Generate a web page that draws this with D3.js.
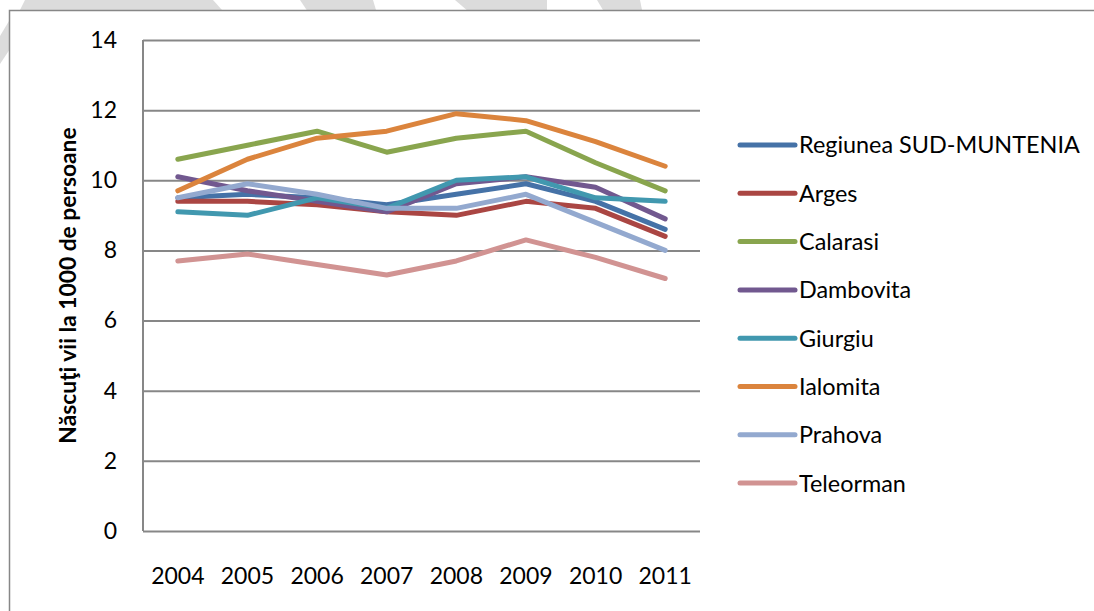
<!DOCTYPE html>
<html>
<head>
    <meta charset="utf-8">
    <title>Născuţi vii la 1000 de persoane</title>
    <script src="https://d3js.org/d3.v7.min.js"></script>
    <style>
        body {
            margin: 0;
            background: #fff;
        }

        svg text {
            font-family: Lato, "Liberation Sans", sans-serif;
            fill: #000;
        }

        .tick text {
            font-size: 23px;
        }

        .grid line {
            stroke: #878787;
            stroke-width: 2;
        }

        .series {
            fill: none;
            stroke-width: 5;
            stroke-linejoin: round;
            stroke-linecap: round;
        }

        .legend text {
            font-size: 23.4px;
        }

        .y-title {
            font-size: 22.8px;
            font-weight: bold;
        }
    </style>
</head>
<body>
    <div id="chart"></div>

    <script>
        // Years on the x axis
        const years = ["2004", "2005", "2006", "2007", "2008", "2009", "2010", "2011"];

        // Series names, in legend order
        const regions = ["Regiunea SUD-MUNTENIA", "Arges", "Calarasi", "Dambovita",
                         "Giurgiu", "Ialomita", "Prahova", "Teleorman"];

        // Live births per 1000 people
        const sudMuntenia = [9.5, 9.6, 9.5, 9.3, 9.6, 9.9, 9.4, 8.6];
        const arges       = [9.4, 9.4, 9.3, 9.1, 9.0, 9.4, 9.2, 8.4];
        const calarasi    = [10.6, 11.0, 11.4, 10.8, 11.2, 11.4, 10.5, 9.7];
        const dambovita   = [10.1, 9.7, 9.4, 9.1, 9.9, 10.1, 9.8, 8.9];
        const giurgiu     = [9.1, 9.0, 9.5, 9.2, 10.0, 10.1, 9.5, 9.4];
        const ialomita    = [9.7, 10.6, 11.2, 11.4, 11.9, 11.7, 11.1, 10.4];
        const prahova     = [9.5, 9.9, 9.6, 9.2, 9.2, 9.6, 8.8, 8.0];
        const teleorman   = [7.7, 7.9, 7.6, 7.3, 7.7, 8.3, 7.8, 7.2];

        const yTicks = [0, 2, 4, 6, 8, 10, 12, 14];

        const colors = ["#4572a7", "#aa4643", "#89a54e", "#71588f",
                        "#4198af", "#db843d", "#93a9cf", "#d19392"];

        const series = [sudMuntenia, arges, calarasi, dambovita,
                        giurgiu, ialomita, prahova, teleorman].map((values, i) => ({
            name: regions[i],
            color: colors[i],
            values: values
        }));

        const width = 1094, height = 611;
        const plot = {left: 143, right: 700, top: 40, bottom: 531};

        const svg = d3.select("#chart")
            .append("svg")
            .attr("width", width)
            .attr("height", height);

        // Faint watermark pieces peeking out above and left of the frame
        const watermark = [
            [[25, 0], [213, 0], [240, 30], [10, 30]],
            [[0, 36], [12, 16], [12, 46], [0, 64]],
            [[300, 0], [373, 0], [382, 30], [320, 30]],
            [[455, 0], [547, 0], [547, 30], [490, 30]],
            [[597, 0], [640, 0], [646, 30], [615, 30]]
        ];
        svg.selectAll(".wm")
            .data(watermark)
            .enter()
            .append("polygon")
            .attr("class", "wm")
            .attr("points", d => d.map(p => p.join(",")).join(" "))
            .attr("fill", "#dcdcdc");

        // Chart frame
        svg.append("rect")
            .attr("x", 9.5)
            .attr("y", 10.5)
            .attr("width", 1200)
            .attr("height", 700)
            .attr("fill", "#fff")
            .attr("stroke", "#878787")
            .attr("stroke-width", 1.5);

        const x = d3.scaleBand()
            .domain(years)
            .range([plot.left, plot.right]);

        const y = d3.scaleLinear()
            .domain([0, 14])
            .range([plot.bottom, plot.top]);

        // Horizontal gridlines + y tick labels
        svg.append("g")
            .attr("class", "grid")
            .attr("transform", `translate(${plot.left},0)`)
            .call(d3.axisLeft(y)
                .tickValues(yTicks)
                .tickSize(-(plot.right - plot.left))
                .tickPadding(26))
            .call(g => g.select(".domain").remove())
            .call(g => g.selectAll(".tick text").attr("font-family", null).attr("font-size", null));

        // Vertical axis line
        svg.append("line")
            .attr("x1", plot.left).attr("x2", plot.left)
            .attr("y1", plot.top).attr("y2", plot.bottom)
            .attr("stroke", "#878787")
            .attr("stroke-width", 2);

        // Year labels
        svg.append("g")
            .attr("transform", `translate(0,${plot.bottom})`)
            .call(d3.axisBottom(x).tickSize(0).tickPadding(37))
            .call(g => g.select(".domain").remove())
            .call(g => g.selectAll(".tick text").attr("font-family", null).attr("font-size", null));

        // Y axis title
        svg.append("text")
            .attr("class", "y-title")
            .attr("transform", `translate(76,${(plot.top + plot.bottom) / 2}) rotate(-90)`)
            .attr("text-anchor", "middle")
            .text("Născuţi vii la 1000 de persoane");

        // Lines
        const line = d3.line()
            .x((d, i) => x(years[i]) + x.bandwidth() / 2)
            .y(d => y(d));

        svg.selectAll(".series")
            .data(series)
            .enter()
            .append("path")
            .attr("class", "series")
            .attr("stroke", d => d.color)
            .attr("d", d => line(d.values));

        // Legend
        const legend = svg.append("g")
            .attr("class", "legend")
            .attr("transform", "translate(740,145)");

        const items = legend.selectAll(".item")
            .data(series)
            .enter()
            .append("g")
            .attr("class", "item")
            .attr("transform", (d, i) => `translate(0,${i * 48.3})`);

        items.append("line")
            .attr("x1", 0).attr("x2", 55)
            .attr("stroke", d => d.color)
            .attr("stroke-width", 5)
            .attr("stroke-linecap", "round");

        items.append("text")
            .attr("x", 59)
            .attr("dy", "0.36em")
            .text(d => d.name);
    </script>
</body>
</html>
